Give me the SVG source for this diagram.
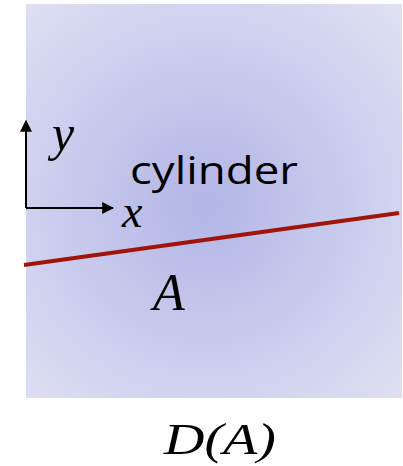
<svg xmlns="http://www.w3.org/2000/svg" width="403" height="466" viewBox="0 0 403 466">
<style>
.m{font-family:"Liberation Serif","DejaVu Serif",serif;font-style:italic;fill:#000}
.t{font-family:"Open Sans","Liberation Sans",sans-serif;fill:#000}
.ax{stroke:#000;stroke-width:2;fill:none}
</style>
<defs>
<radialGradient id="bg" cx="205" cy="205" r="290" gradientUnits="userSpaceOnUse">
<stop offset="0" stop-color="#b2b5e6"/>
<stop offset="1" stop-color="#e2e3f4"/>
</radialGradient>
<marker id="ar" viewBox="0 0 10 10" refX="9" refY="5" markerWidth="6" markerHeight="6" markerUnits="strokeWidth" orient="auto">
<path d="M0,0 L10,5 L0,10 z" fill="#000"/>
</marker>
</defs>
<g id="domain">
<rect x="26" y="4" width="376" height="394" fill="url(#bg)"/>
</g>
<g id="connectors">
<path class="ax" d="M26,208 V121" marker-end="url(#ar)"/>
<path class="ax" d="M26,208 H113" marker-end="url(#ar)"/>
<line x1="24" y1="265" x2="399" y2="213" stroke="#a0140a" stroke-width="4"/>
</g>
<g id="labels">
<text class="m" x="52" y="150" font-size="50">y</text>
<text class="m" x="122" y="227" font-size="46">x</text>
<text class="t" x="130" y="184" font-size="38" textLength="168" lengthAdjust="spacingAndGlyphs">cylinder</text>
<text class="m" x="153" y="310" font-size="52">A</text>
<text class="m" x="164" y="454" font-size="45" textLength="112" lengthAdjust="spacingAndGlyphs">D(A)</text>
</g>
</svg>
